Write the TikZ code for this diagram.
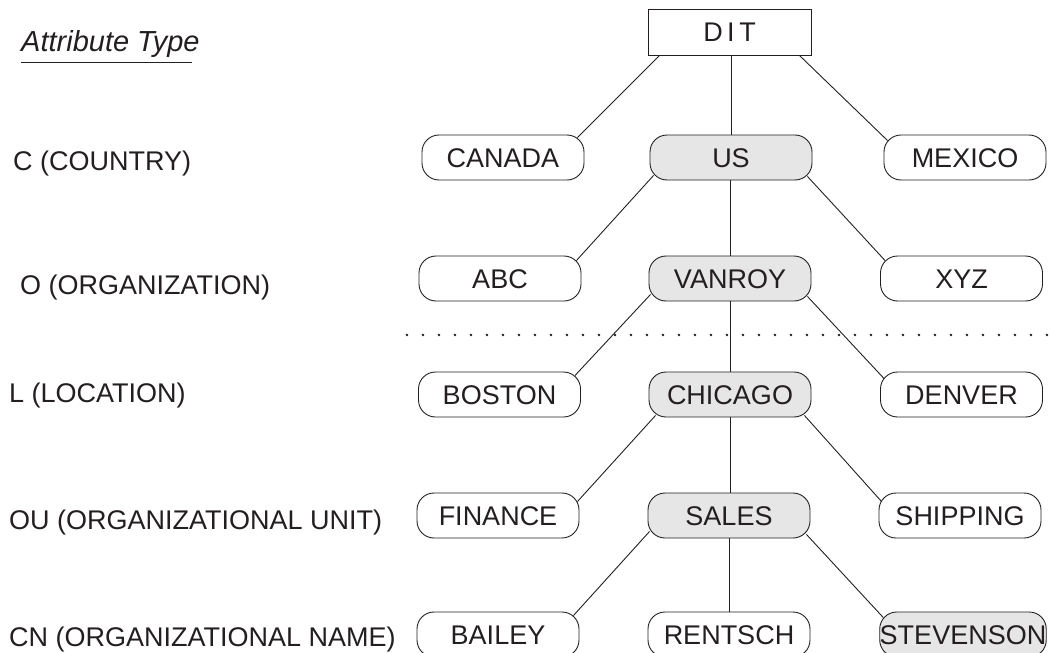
\documentclass[tikz,border=0pt]{standalone}
\usepackage{fontspec}
\setmainfont{Liberation Sans}
\begin{document}
\begin{tikzpicture}[x=1pt,y=-1pt,
  every node/.style={font=\fontsize{27}{31}\selectfont, text=ink, inner sep=0pt, text height=19.3pt, text depth=0pt},
  entry/.style={draw=ink, line width=0.9pt, rounded corners=17pt, minimum width=162pt, minimum height=45pt},
  chosen/.style={entry, fill=selgray},
  rootbox/.style={draw=ink, line width=0.9pt, minimum width=163pt, minimum height=46pt},
  level/.style={anchor=west},
  link/.style={draw=ink, line width=0.9pt}
]
\definecolor{ink}{HTML}{231F20}
\definecolor{selgray}{HTML}{E6E6E7}
\useasboundingbox (0,0) rectangle (1053,653);

% title
\node[anchor=base west, font=\itshape\fontsize{29}{33}\selectfont, text height=, text depth=] (title) at (21,51) {Attribute Type};
\draw[link] ([yshift=-11pt]title.base west) -- ([xshift=-8pt,yshift=-11pt]title.base east);

% level labels
\node[level] (lc)  at (13,161) {C (COUNTRY)};
\node[level] (lo)  at (20,285) {O (ORGANIZATION)};
\node[level] (ll)  at (9,393)  {L (LOCATION)};
\node[level] (lou) at (9,520)  {OU (ORGANIZATIONAL UNIT)};
\node[level] (lcn) at (9,637)  {CN (ORGANIZATIONAL NAME)};

% tree
\node[rootbox] (dit) at (729.5,32) {D\,I\,T};

\node[entry]  (canada) at (503,157.5) {CANADA};
\node[chosen] (us)     at (731,157.5) {US};
\node[entry]  (mexico) at (965,157.5) {MEXICO};

\node[entry]  (abc)    at (500,278.5) {ABC};
\node[chosen] (vanroy) at (730,278.5) {VANROY};
\node[entry]  (xyz)    at (961.5,278.5) {XYZ};

\node[entry]  (boston)  at (499.5,394.5) {BOSTON};
\node[chosen] (chicago) at (730,394.5) {CHICAGO};
\node[entry]  (denver)  at (961.5,394.5) {DENVER};

\node[entry]  (finance)  at (498,515.5) {FINANCE};
\node[chosen] (sales)    at (729,515.5) {SALES};
\node[entry]  (shipping) at (960,515.5) {SHIPPING};

\node[entry]  (bailey)    at (498,634.5) {BAILEY};
\node[entry]  (rentsch)   at (729,634.5) {RENTSCH};
\node[chosen, minimum width=166pt] (stevenson) at (963,634.5) {STEVENSON};

% dotted separator
\coordinate (sepL) at (407,335);
\coordinate (sepR) at (1053,335);
\draw[ink, line width=2.8pt, line cap=round, dash pattern=on 0pt off 16pt] (sepL) -- (sepR);

% connectors
\draw[link] ([xshift=12pt]dit.south west) -- ([xshift=-7pt,yshift=-3pt]canada.north east);
\draw[link] (dit.south -| us.north) -- (us.north);
\draw[link] ([xshift=-12pt]dit.south east) -- ([xshift=4pt,yshift=-6pt]mexico.north west);

\draw[link] ([xshift=4pt,yshift=5pt]us.south west) -- ([xshift=-5pt,yshift=-5pt]abc.north east);
\draw[link] (us.south -| vanroy.north) -- (vanroy.north);
\draw[link] ([xshift=-5pt,yshift=4pt]us.south east) -- ([xshift=5pt,yshift=-5pt]xyz.north west);

\draw[link] ([xshift=2pt,yshift=7pt]vanroy.south west) -- ([xshift=-6pt,yshift=-4pt]boston.north east);
\draw[link] (vanroy.south) -- (vanroy.south |- chicago.north);
\draw[link] ([xshift=-4pt,yshift=5pt]vanroy.south east) -- ([xshift=4pt,yshift=-7pt]denver.north west);

\draw[link] ([xshift=7pt,yshift=2pt]chicago.south west) -- ([xshift=-2pt,yshift=-9pt]finance.north east);
\draw[link] (chicago.south) -- (chicago.south |- sales.north);
\draw[link] ([xshift=-7pt,yshift=2pt]chicago.south east) -- ([xshift=3pt,yshift=-9pt]shipping.north west);

\draw[link] ([xshift=2pt,yshift=7pt]sales.south west) -- ([xshift=-6pt,yshift=-4pt]bailey.north east);
\draw[link] (sales.south) -- (sales.south |- rentsch.north);
\draw[link] ([xshift=-4pt,yshift=4pt]sales.south east) -- ([xshift=4pt,yshift=-6pt]stevenson.north west);
\end{tikzpicture}
\end{document}
